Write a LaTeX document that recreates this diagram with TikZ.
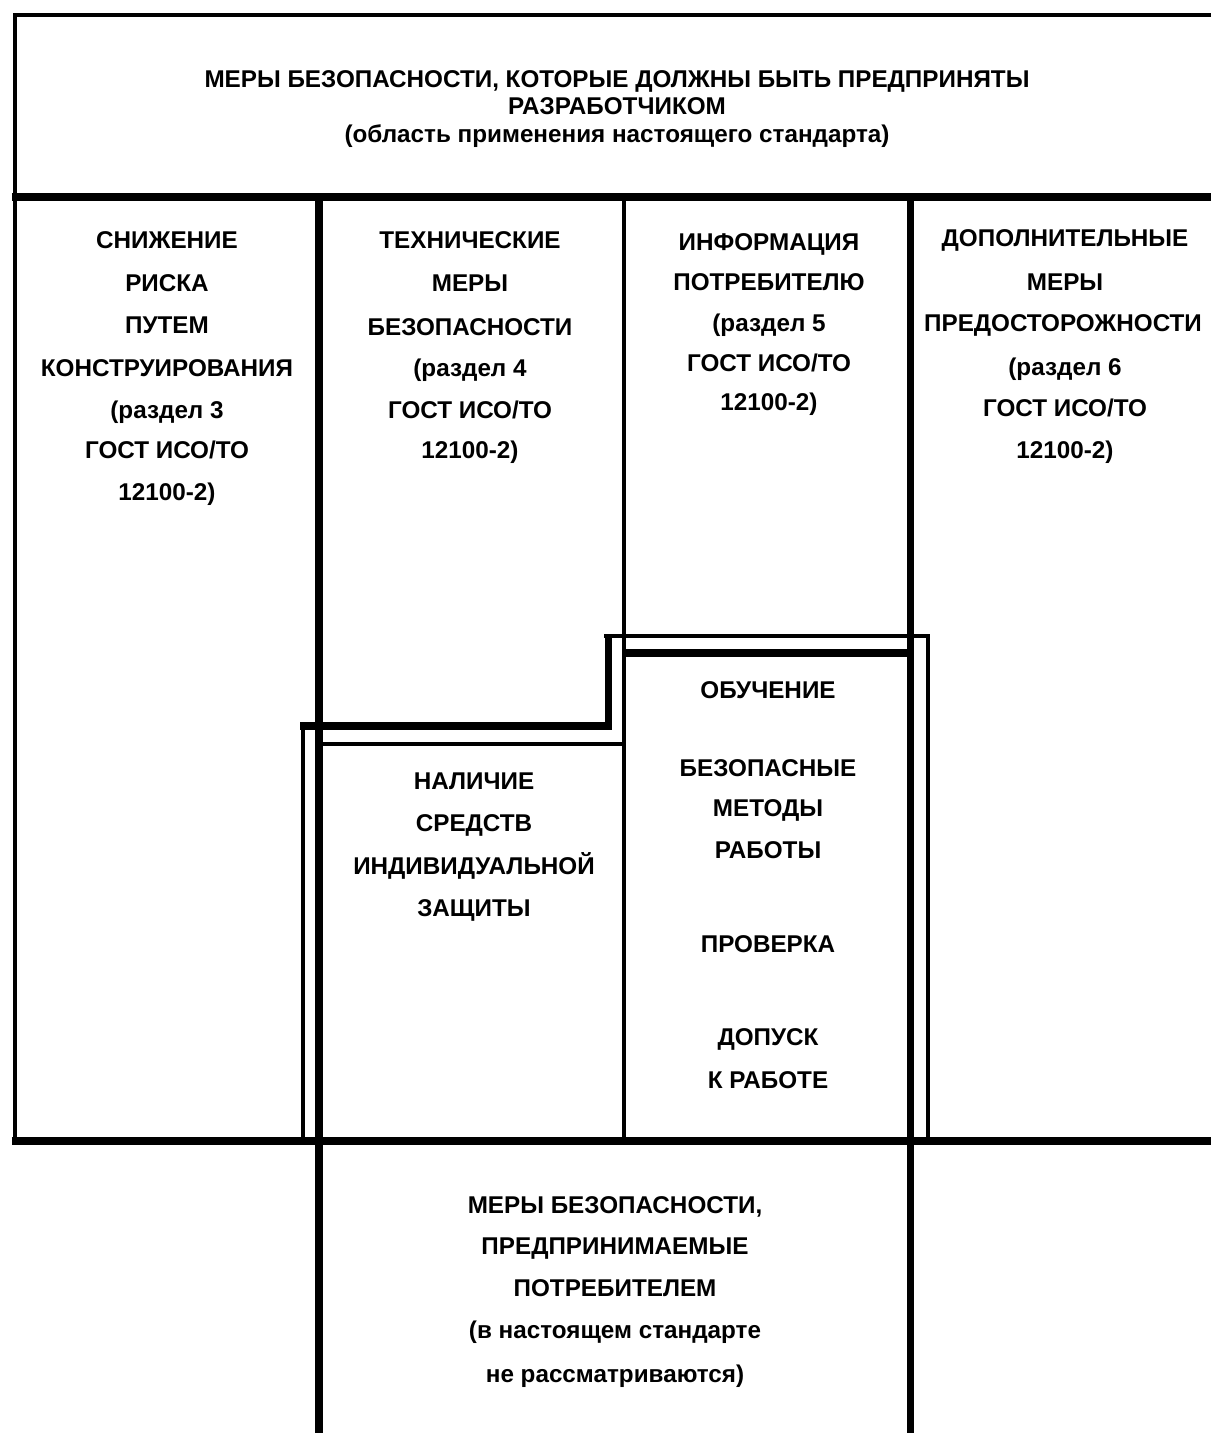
\documentclass[tikz,border=0pt]{standalone}
\usepackage{fontspec}
\setmainfont{Liberation Sans}
\usepackage{tikz}

\tikzset{
  lbl/.style={font=\bfseries\fontsize{6.9}{8}\selectfont, inner sep=0pt, text height=4.9pt, text depth=0pt},
  heavy/.style={line width=2pt},
  medium/.style={line width=1.4pt},
  light/.style={line width=0.9pt}
}

\begin{document}
\begin{tikzpicture}[x=1cm,y=-1cm]
        \useasboundingbox (0,0) rectangle (12.11,14.33);

        % Designer frame
        \draw[medium] (12.11,0.15) -- (0.15,0.15) -- (0.15,11.41);
        \draw[heavy] (0.12,1.97) -- (12.11,1.97);
        \draw[heavy] (0.12,11.41) -- (12.11,11.41);

        % Columns
        \draw[heavy] (3.19,1.97) -- (3.19,14.33);
        \draw[medium] (6.24,1.97) -- (6.24,11.41);
        \draw[heavy] (9.10,1.97) -- (9.10,14.33);

        % User part outline
        \draw[medium] (3.03,11.41) -- (3.03,7.26);
        \draw[heavy] (3.00,7.26) -- (6.08,7.26) -- (6.08,6.36);
        \draw[light] (6.04,6.36) -- (9.28,6.36) -- (9.28,11.41);
        \draw[light] (3.19,7.44) -- (6.24,7.44);
        \draw[heavy] (6.24,6.53) -- (9.10,6.53);

        % Header
        \node[lbl] (hd1) at (6.17,0.79) {МЕРЫ БЕЗОПАСНОСТИ, КОТОРЫЕ ДОЛЖНЫ БЫТЬ ПРЕДПРИНЯТЫ};
        \node[lbl] (hd2) at (6.17,1.06) {РАЗРАБОТЧИКОМ};
        \node[lbl] (hd3) at (6.17,1.34) {(область применения настоящего стандарта)};

        % Column 1
        \node[lbl] (ca1) at (1.67,2.40) {СНИЖЕНИЕ};
        \node[lbl] (ca2) at (1.67,2.83) {РИСКА};
        \node[lbl] (ca3) at (1.67,3.25) {ПУТЕМ};
        \node[lbl] (ca4) at (1.67,3.68) {КОНСТРУИРОВАНИЯ};
        \node[lbl] (ca5) at (1.67,4.10) {(раздел 3};
        \node[lbl] (ca6) at (1.67,4.50) {ГОСТ ИСО/ТО};
        \node[lbl] (ca7) at (1.67,4.92) {12100-2)};

        % Column 2
        \node[lbl] (cb1) at (4.70,2.40) {ТЕХНИЧЕСКИЕ};
        \node[lbl] (cb2) at (4.70,2.83) {МЕРЫ};
        \node[lbl] (cb3) at (4.70,3.27) {БЕЗОПАСНОСТИ};
        \node[lbl] (cb4) at (4.70,3.68) {(раздел 4};
        \node[lbl] (cb5) at (4.70,4.10) {ГОСТ ИСО/ТО};
        \node[lbl] (cb6) at (4.70,4.50) {12100-2)};

        % Column 3
        \node[lbl] (cc1) at (7.69,2.42) {ИНФОРМАЦИЯ};
        \node[lbl] (cc2) at (7.69,2.82) {ПОТРЕБИТЕЛЮ};
        \node[lbl] (cc3) at (7.69,3.23) {(раздел 5};
        \node[lbl] (cc4) at (7.69,3.63) {ГОСТ ИСО/ТО};
        \node[lbl] (cc5) at (7.69,4.02) {12100-2)};

        % Column 4
        \node[lbl] (cd1) at (10.65,2.38) {ДОПОЛНИТЕЛЬНЫЕ};
        \node[lbl] (cd2) at (10.65,2.82) {МЕРЫ};
        \node[lbl] (cd3) at (10.63,3.23) {ПРЕДОСТОРОЖНОСТИ};
        \node[lbl] (cd4) at (10.65,3.67) {(раздел 6};
        \node[lbl] (cd5) at (10.65,4.08) {ГОСТ ИСО/ТО};
        \node[lbl] (cd6) at (10.65,4.50) {12100-2)};

        % Protective equipment
        \node[lbl] (pe1) at (4.74,7.81) {НАЛИЧИЕ};
        \node[lbl] (pe2) at (4.74,8.23) {СРЕДСТВ};
        \node[lbl] (pe3) at (4.74,8.66) {ИНДИВИДУАЛЬНОЙ};
        \node[lbl] (pe4) at (4.74,9.08) {ЗАЩИТЫ};

        % Training
        \node[lbl] (tr1) at (7.68,6.90) {ОБУЧЕНИЕ};
        \node[lbl] (tr2) at (7.68,7.68) {БЕЗОПАСНЫЕ};
        \node[lbl] (tr3) at (7.68,8.08) {МЕТОДЫ};
        \node[lbl] (tr4) at (7.68,8.50) {РАБОТЫ};
        \node[lbl] (tr5) at (7.68,9.44) {ПРОВЕРКА};
        \node[lbl] (tr6) at (7.68,10.37) {ДОПУСК};
        \node[lbl] (tr7) at (7.68,10.80) {К РАБОТЕ};

        % User measures
        \node[lbl] (us1) at (6.15,12.05) {МЕРЫ БЕЗОПАСНОСТИ,};
        \node[lbl] (us2) at (6.15,12.46) {ПРЕДПРИНИМАЕМЫЕ};
        \node[lbl] (us3) at (6.15,12.88) {ПОТРЕБИТЕЛЕМ};
        \node[lbl] (us4) at (6.15,13.30) {(в настоящем стандарте};
        \node[lbl] (us5) at (6.15,13.74) {не рассматриваются)};
    \end{tikzpicture}
\end{document}
